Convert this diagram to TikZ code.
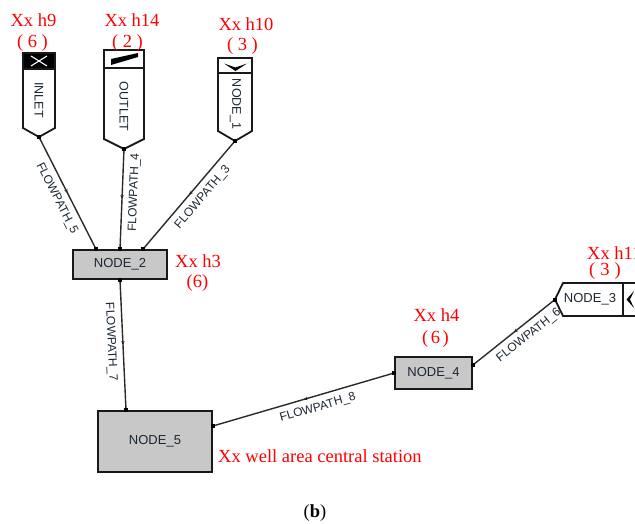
\documentclass[tikz,border=0pt]{standalone}
\usepackage{fontspec}
\setmainfont{Liberation Serif}
\newfontfamily\lsans{Liberation Sans}
\usetikzlibrary{calc,decorations.markings,arrows.meta}
\definecolor{edgec}{HTML}{2A2A2A}
\definecolor{txtc}{HTML}{1C2633}
\definecolor{boxfill}{HTML}{C8C8C8}
\newcommand\fwpar[2]{(\kern#1pt#2\kern#1pt)}
\tikzset{
  box/.style={draw=black!90, line width=1.8pt, fill=boxfill, inner sep=0pt, text=txtc,
              font=\lsans\fontsize{13}{15}\selectfont},
  outline/.style={draw=black!90, line width=1.8pt, line join=miter},
  vlab/.style={rotate=-90, inner sep=0pt, text=txtc, font=\lsans\fontsize{12.5}{14}\selectfont},
  flow/.style={draw=edgec, line width=1.4pt, postaction={decorate},
     decoration={markings, mark=at position 0.5 with {\arrow{Stealth[length=4pt,width=3.5pt]}}}},
  flowr/.style={draw=edgec, line width=1.4pt, postaction={decorate},
     decoration={markings, mark=at position 0.5 with {\arrowreversed{Stealth[length=4pt,width=3.5pt]}}}},
  flab/.style={sloped, inner sep=1pt, text=txtc, font=\lsans\fontsize{12}{14}\selectfont},
  ann/.style={text=red, inner sep=0pt, font=\fontsize{18.5}{21}\selectfont},
}
\begin{document}
\begin{tikzpicture}[x=1pt,y=-1pt]
\useasboundingbox (0,0) rectangle (635,523);
\fill[white] (0,0) rectangle (635,523);

% ---------- INLET ----------
\fill[white] (23,53) -- (55,53) -- (55,128) -- (39,137) -- (23,128) -- cycle;
\fill[black] (23,53) rectangle (55,69);
\draw[white, line width=1.1pt] (31,56) -- (47,66) (31,66) -- (47,56);
\draw[outline] (23,53) -- (55,53) -- (55,128) -- (39,137) -- (23,128) -- cycle;
\draw[outline] (23,69) -- (55,69);
\node[vlab] (inlet) at (39,100) {INLET};
\coordinate (tinlet) at (39,137);

% ---------- OUTLET ----------
\fill[white] (104,50) -- (144,50) -- (144,139) -- (124,149) -- (104,139) -- cycle;
\fill[black] (111,59) -- (138,53) -- (138,57) -- (111,65) -- cycle;
\draw[outline] (104,50) -- (144,50) -- (144,139) -- (124,149) -- (104,139) -- cycle;
\draw[outline] (104,68) -- (144,68);
\node[vlab] (outlet) at (124,106.5) {OUTLET};
\coordinate (toutlet) at (124,149);

% ---------- NODE_1 ----------
\fill[white] (218,58) -- (252,58) -- (252,131) -- (235,141) -- (218,131) -- cycle;
\fill[black] (224,63.5) -- (235.5,67.5) -- (247,63.5) -- (235.5,71) -- cycle;
\draw[outline] (218,58) -- (252,58) -- (252,131) -- (235,141) -- (218,131) -- cycle;
\draw[outline] (218,73) -- (252,73);
\node[vlab] (node1) at (235.5,104) {NODE\_1};
\coordinate (tnode1) at (235,141);

% ---------- NODE_3 (cut by the right edge) ----------
\fill[white] (650,283) -- (563,283) -- (555,299.5) -- (563,316) -- (650,316) -- cycle;
\draw[outline] (650,283) -- (563,283) -- (555,299.5) -- (563,316) -- (650,316);
\draw[outline] (623,283) -- (623,316);
\fill[black] (634,291) -- (630,299.5) -- (634,308) -- (626.5,299.5) -- cycle;
\node[inner sep=0pt, text=txtc, font=\lsans\fontsize{13}{15}\selectfont] (node3) at (590,299.5) {NODE\_3};
\coordinate (tnode3) at (555,299.5);

% ---------- boxes ----------
\node[box, minimum width=94pt, minimum height=29pt] (n2) at (120,264.5) {NODE\_2};
\node[box, minimum width=77pt, minimum height=32pt] (n4) at (433.5,373) {NODE\_4};
\node[box, minimum width=114pt, minimum height=61pt] (n5) at (155,441.5) {NODE\_5};

% ---------- end points ----------
\coordinate (a5) at ($(n2.north)+(-24,0)$);
\coordinate (a4) at (n2.north);
\coordinate (a3) at ($(n2.north)+(23,0)$);
\coordinate (b7) at (n2.south);
\coordinate (c7) at ($(n5.north)+(-29,0)$);
\coordinate (c8) at ($(n5.east)+(0,-15.5)$);
\coordinate (d8) at (n4.west);
\coordinate (d6) at ($(n4.east)+(0,-8)$);

% ---------- connectors ----------
\draw[flow] (tinlet) -- (a5) node[flab, pos=0.5, below=5pt] {FLOWPATH\_5};
\draw[flowr] (a4) -- (toutlet) node[flab, pos=0.57, below=5pt] {FLOWPATH\_4};
\draw[flowr] (a3) -- (tnode1) node[flab, pos=0.55, below=5pt] {FLOWPATH\_3};
\draw[flow] (b7) -- (c7) node[flab, pos=0.47, below=5pt] {FLOWPATH\_7};
\draw[flowr] (c8) -- (d8) node[flab, pos=0.56, below=5pt] {FLOWPATH\_8};
\draw[flowr] (d6) -- (tnode3) node[flab, pos=0.59, below=5pt] {FLOWPATH\_6};

\foreach \p in {tinlet,toutlet,tnode1,tnode3,a5,a4,a3,b7,c7,c8,d8,d6}
  \fill[black] ($(\p)+(-2,-2)$) rectangle ($(\p)+(2,2)$);

% ---------- annotations ----------
\node[ann, anchor=base] (l9) at (33.5,26) {Xx h9};
\node[ann, anchor=base] (l9b) at (32.5,47) {\fwpar{4.5}{6}};
\node[ann, anchor=base] (l14) at (132,26) {Xx h14};
\node[ann, anchor=base] (l14b) at (127.5,47) {\fwpar{4.5}{2}};
\node[ann, anchor=base] (l10) at (246,30) {Xx h10};
\node[ann, anchor=base] (l10b) at (242.5,50) {\fwpar{4.5}{3}};
\node[ann, anchor=base west] (l3) at (175,267) {Xx h3};
\node[ann, anchor=base] (l3b) at (197.5,287) {(6)};
\node[ann, anchor=base] (l4) at (436.5,321) {Xx h4};
\node[ann, anchor=base] (l4b) at (435.5,343) {\fwpar{2.5}{6}};
\node[ann, anchor=base west] (l11) at (587,259) {Xx h11};
\node[ann, anchor=base] (l11b) at (605,275) {\fwpar{5}{3}};
\node[ann, anchor=base west] (lst) at (218,462) {Xx well area central station};
\node[inner sep=0pt, anchor=base, font=\fontsize{18.5}{21}\selectfont] (cap) at (315,517) {(\textbf{b})};
\end{tikzpicture}
\end{document}
